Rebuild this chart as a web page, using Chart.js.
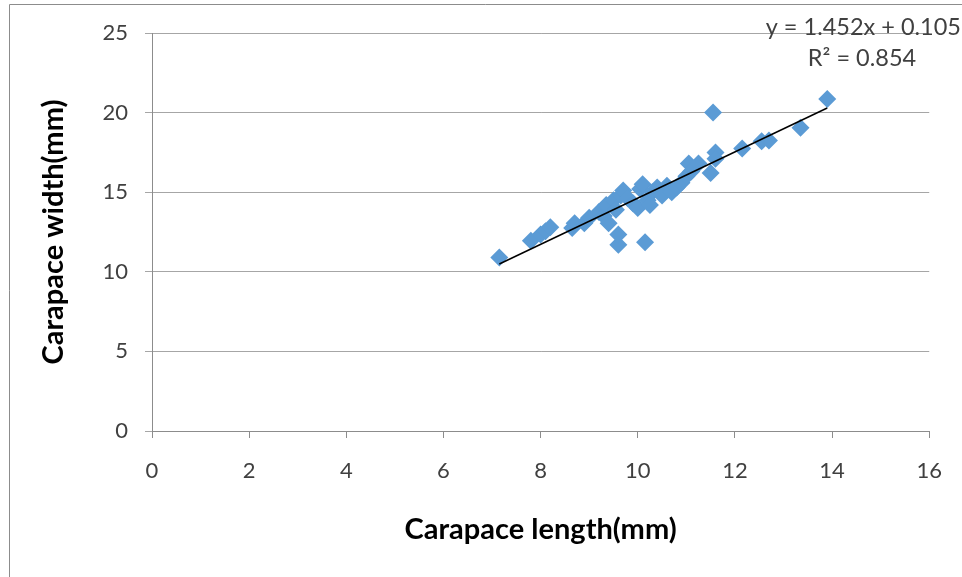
<!DOCTYPE html>
<html>
<head>
<meta charset="utf-8">
<script src="https://cdn.jsdelivr.net/npm/chart.js@4"></script>
<style>
html,body{margin:0;padding:0;background:#fff;}
#wrap{width:962px;height:577px;position:relative;}
</style>
</head>
<body>
<div id="wrap"><canvas id="c" width="962" height="577"></canvas></div>
<script>
// Data
const carapaceLength = [7.15, 7.8, 8.0, 8.1, 8.2, 8.65, 8.7, 8.9, 9.0, 9.2, 9.3, 9.35, 9.4, 9.5, 9.55, 9.6, 9.6, 9.65, 9.7, 9.8, 9.9, 10.0, 10.05, 10.1, 10.15, 10.2, 10.25, 10.3, 10.4, 10.5, 10.6, 10.7, 10.8, 10.9, 11.0, 11.05, 11.1, 11.25, 11.5, 11.55, 11.6, 11.6, 12.15, 12.55, 12.7, 13.35, 13.9];
const carapaceWidth  = [10.9, 11.95, 12.35, 12.55, 12.8, 12.75, 13.05, 13.05, 13.4, 13.75, 13.5, 14.2, 13.05, 14.5, 13.9, 11.7, 12.35, 14.8, 15.1, 14.6, 14.3, 14.0, 15.2, 15.5, 11.85, 14.5, 14.2, 15.0, 15.3, 14.8, 15.4, 15.0, 15.3, 15.6, 16.0, 16.8, 16.3, 16.8, 16.2, 20.0, 17.5, 17.1, 17.75, 18.2, 18.25, 19.05, 20.85];
const trendX = [7.15, 13.9];
const trendY = [10.49, 20.29];
const xTicks = [0, 2, 4, 6, 8, 10, 12, 14, 16];
const yTicks = [0, 5, 10, 15, 20, 25];
const equationText = "y = 1.452x + 0.105";
const r2Text = "R\u00B2 = 0.854";
const xTitle = "Carapace length(mm)";
const yTitle = "Carapace width(mm)";

const FONT = "Lato, 'Open Sans', sans-serif";

const points = carapaceLength.map((x, i) => ({x: x, y: carapaceWidth[i]}));
const trend = trendX.map((x, i) => ({x: x, y: trendY[i]}));

const decor = {
  id: 'decor',
  afterDraw(chart) {
    const ctx = chart.ctx;
    ctx.save();
    ctx.strokeStyle = '#8c8c8c';
    ctx.lineWidth = 1;
    ctx.beginPath();
    ctx.moveTo(9.5, 577);
    ctx.lineTo(9.5, 4.5);
    ctx.lineTo(962, 4.5);
    ctx.stroke();
    ctx.fillStyle = '#404040';
    ctx.font = "23.5px " + FONT;
    ctx.textBaseline = 'middle';
    ctx.textAlign = 'right';
    ctx.fillText(equationText, 961, 27);
    ctx.textAlign = 'center';
    ctx.fillText(r2Text, 862, 58);
    ctx.restore();
  }
};

new Chart(document.getElementById('c'), {
  type: 'scatter',
  data: {
    datasets: [
      {
        data: points,
        pointStyle: 'rectRot',
        pointRadius: 9,
        pointHoverRadius: 9,
        backgroundColor: '#5B9BD5',
        borderWidth: 0,
        order: 2
      },
      {
        type: 'line',
        data: trend,
        showLine: true,
        borderColor: '#000000',
        borderWidth: 1.5,
        pointRadius: 0,
        fill: false,
        order: 1
      }
    ]
  },
  options: {
    responsive: false,
    animation: false,
    events: [],
    layout: {padding: {top: 33, right: 32, left: 0, bottom: 0}},
    plugins: {legend: {display: false}, tooltip: {enabled: false}},
    scales: {
      x: {
        type: 'linear',
        min: 0, max: 16,
        afterFit(s) { s.height = 146; },
        afterBuildTicks(s) { s.ticks = xTicks.map(v => ({value: v})); },
        grid: {drawOnChartArea: false, drawTicks: true, tickLength: 7, color: '#8c8c8c'},
        border: {display: true, color: '#8c8c8c'},
        ticks: {color: '#404040', font: {family: FONT, size: 22}, padding: 20, maxRotation: 0},
        title: {display: true, text: xTitle, color: '#000', font: {family: FONT, size: 29, weight: 'bold'}, padding: {top: 0, bottom: 30}}
      },
      y: {
        type: 'linear',
        min: 0, max: 25,
        afterFit(s) { s.width = 152; },
        afterBuildTicks(s) { s.ticks = yTicks.map(v => ({value: v})); },
        grid: {color: '#a6a6a6', tickLength: 7, drawTicks: true},
        border: {display: true, color: '#8c8c8c'},
        ticks: {color: '#404040', font: {family: FONT, size: 22}, padding: 17},
        title: {display: true, text: yTitle, color: '#000', font: {family: FONT, size: 29, weight: 'bold'}, padding: {top: 36, bottom: 0}}
      }
    }
  },
  plugins: [decor]
});
</script>
</body>
</html>
